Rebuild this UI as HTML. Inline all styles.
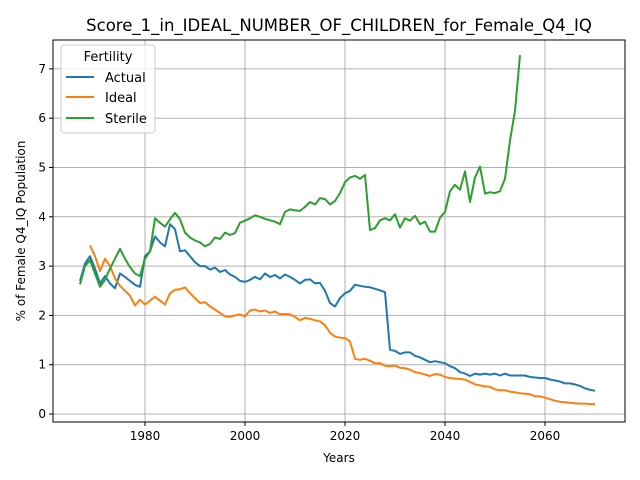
<!DOCTYPE html>
<html><head><meta charset="utf-8"><style>
body{margin:0;background:#fff;}
svg{display:block;font-family:"DejaVu Sans","Liberation Sans",sans-serif;}
</style></head><body>
<svg id="chart" width="640" height="480">
<rect width="640" height="480" fill="#fff"/>
<text x="339" y="31" font-size="16.5" text-anchor="middle" fill="#000">Score_1_in_IDEAL_NUMBER_OF_CHILDREN_for_Female_Q4_IQ</text>
<g id="grid"></g>
<g id="series"></g>
<rect x="53" y="40" width="572" height="382" fill="none" stroke="#000" stroke-width="1"/>
<g id="ticks"></g>
<text x="339" y="462" font-size="12" text-anchor="middle">Years</text>
<text transform="translate(25,231) rotate(-90)" font-size="12" text-anchor="middle">% of Female Q4_IQ Population</text>
<g>
<rect x="61" y="45" width="94" height="88" rx="3" fill="#fff" fill-opacity="0.8" stroke="#ccc"/>
<text x="108" y="61" font-size="13" text-anchor="middle">Fertility</text>
<g><line x1="66" y1="77" x2="94" y2="77" stroke="#1f77b4" stroke-width="2"/><text x="105" y="82" font-size="13">Actual</text></g>
<g><line x1="66" y1="97" x2="94" y2="97" stroke="#ff7f0e" stroke-width="2"/><text x="105" y="102" font-size="13">Ideal</text></g>
<g><line x1="66" y1="118" x2="94" y2="118" stroke="#2ca02c" stroke-width="2"/><text x="105" y="123" font-size="13">Sterile</text></g>
</g>
</svg>
<script>
const xTicks=[1980,2000,2020,2040,2060];
const yTicks=[0,1,2,3,4,5,6,7];
const actualStart=1967;
const actual=[2.7,3.05,3.2,2.95,2.65,2.8,2.65,2.55,2.85,2.78,2.7,2.62,2.58,3.2,3.3,3.6,3.48,3.4,3.85,3.75,3.3,3.32,3.2,3.08,3.0,3.0,2.93,2.97,2.88,2.92,2.83,2.78,2.7,2.68,2.72,2.78,2.73,2.85,2.78,2.82,2.75,2.83,2.78,2.72,2.65,2.72,2.73,2.65,2.66,2.5,2.25,2.18,2.35,2.45,2.5,2.62,2.6,2.58,2.57,2.54,2.51,2.47,1.3,1.28,1.22,1.25,1.25,1.18,1.15,1.1,1.05,1.07,1.05,1.03,0.97,0.93,0.85,0.82,0.77,0.82,0.8,0.82,0.8,0.82,0.78,0.82,0.78,0.78,0.78,0.78,0.75,0.74,0.73,0.73,0.7,0.68,0.66,0.62,0.62,0.6,0.57,0.52,0.49,0.47];
const idealStart=1969;
const ideal=[3.42,3.2,2.9,3.15,3.0,2.75,2.6,2.5,2.4,2.2,2.32,2.22,2.3,2.38,2.3,2.22,2.45,2.52,2.53,2.57,2.45,2.35,2.25,2.27,2.18,2.12,2.05,1.98,1.97,2.0,2.02,1.98,2.1,2.12,2.08,2.1,2.05,2.08,2.02,2.03,2.02,1.97,1.9,1.95,1.93,1.9,1.88,1.8,1.65,1.57,1.55,1.54,1.47,1.12,1.1,1.12,1.08,1.03,1.03,0.98,0.97,0.98,0.94,0.93,0.9,0.85,0.83,0.8,0.77,0.81,0.8,0.75,0.73,0.72,0.71,0.7,0.65,0.6,0.58,0.56,0.55,0.5,0.48,0.48,0.45,0.44,0.42,0.41,0.4,0.36,0.36,0.33,0.3,0.27,0.25,0.24,0.23,0.22,0.21,0.21,0.2,0.2];
const sterileStart=1967;
const sterile=[2.63,3.0,3.12,2.85,2.58,2.72,2.95,3.15,3.35,3.15,2.98,2.85,2.8,3.15,3.3,3.97,3.88,3.8,3.95,4.08,3.95,3.68,3.58,3.52,3.48,3.4,3.45,3.58,3.55,3.68,3.63,3.67,3.88,3.92,3.97,4.03,4.0,3.96,3.93,3.9,3.85,4.1,4.15,4.13,4.12,4.2,4.3,4.25,4.38,4.36,4.25,4.32,4.48,4.7,4.8,4.83,4.77,4.85,3.73,3.77,3.93,3.97,3.93,4.05,3.78,3.97,3.92,4.02,3.85,3.9,3.7,3.7,3.98,4.1,4.52,4.65,4.55,4.92,4.3,4.8,5.02,4.47,4.5,4.48,4.52,4.77,5.55,6.15,7.28];

const NS="http://www.w3.org/2000/svg";
const xS=y=>145+(y-1980)*5;
const yS=v=>414-v*49.3;
const grid=document.getElementById('grid'),ticks=document.getElementById('ticks'),ser=document.getElementById('series');
function mk(tag,attrs,parent){const e=document.createElementNS(NS,tag);for(const k in attrs)e.setAttribute(k,attrs[k]);parent.appendChild(e);return e;}
xTicks.forEach(t=>{
  const gl=mk('line',{x1:xS(t),x2:xS(t),y1:40,y2:422,stroke:'#b0b0b0','stroke-width':1},grid);
  
  
  mk('line',{x1:xS(t),x2:xS(t),y1:422,y2:426,stroke:'#000'},ticks);
  const tx=mk('text',{x:xS(t),y:440,'font-size':12,'text-anchor':'middle'},ticks);
  tx.textContent=t;
  
  
});
yTicks.forEach(t=>{
  const gl=mk('line',{x1:53,x2:625,y1:yS(t),y2:yS(t),stroke:'#b0b0b0','stroke-width':1},grid);
  
  
  mk('line',{x1:49,x2:53,y1:yS(t),y2:yS(t),stroke:'#000'},ticks);
  const tx=mk('text',{x:46,y:yS(t)+4,'font-size':12,'text-anchor':'end'},ticks);
  tx.textContent=t;
  
  
});
function line(vals,start,color,name){
  const pts=vals.map((v,i)=>xS(start+i).toFixed(1)+','+yS(v).toFixed(1)).join(' ');
  const p=mk('polyline',{points:pts,fill:'none',stroke:color,'stroke-width':2,'stroke-linejoin':'round'},ser);
  
  
}
line(actual,actualStart,'#1f77b4','actual-line');
line(ideal,idealStart,'#ff7f0e','ideal-line');
line(sterile,sterileStart,'#2ca02c','sterile-line');
</script>
</body></html>
